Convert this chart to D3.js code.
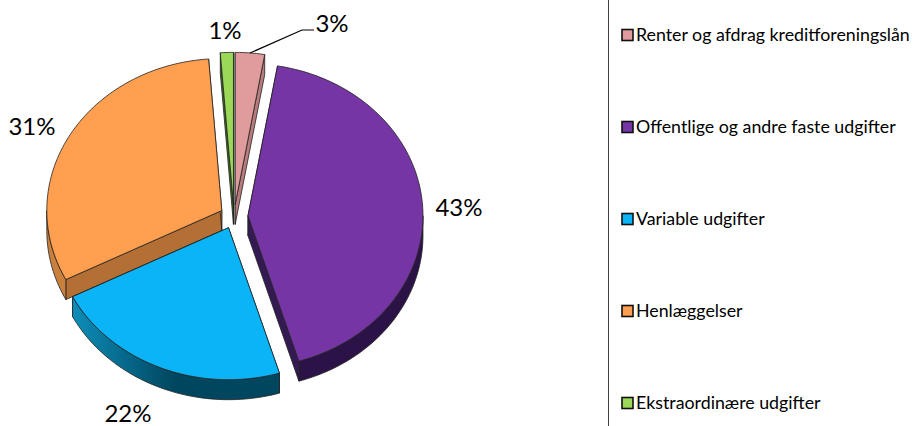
<!DOCTYPE html>
<html>
<head>
<meta charset="utf-8">
<script src="https://cdn.jsdelivr.net/npm/d3@7"></script>
<style>
  html, body { margin: 0; padding: 0; background: #fff; }
  svg { display: block; }
  text { font-family: Lato, "Open Sans", sans-serif; fill: #000; }
</style>
</head>
<body>
<svg id="chart" width="917" height="426"></svg>
<script>
const categories = [
  "Renter og afdrag kreditforeningslån",
  "Offentlige og andre faste udgifter",
  "Variable udgifter",
  "Henlæggelser",
  "Ekstraordinære udgifter"
];
// the labels round these
const shares = [2.7, 42.6, 22.2, 31.3, 1.2];
const faceColors = ["#e09c9c", "#7535a5", "#0ab4f7", "#ff9f4f", "#9bd857"];
const wallDark = ["#a56e6e", "#2c1347", "#00465f", "#b46f35", "#3d6a1d"];
const wallLight = ["#b87c7c", "#341a52", "#0d8fbc", "#c9803c", "#5d8f30"];

const svg = d3.select("#chart");
const height = +svg.attr("height");

const cx = 234, cy = 216.5, rx = 175, ry = 152, depth = 20, explode = 14;
const rad = deg => deg * Math.PI / 180;

// clockwise from the top, same way d3.arc measures it
const pie = d3.pie().sort(null);
const slices = pie(shares).map((d, i) => {
  let mid = (d.startAngle + d.endAngle) / 2;
  return {
    ...d,
    i,
    mid,
    ox: cx + Math.sin(mid) * explode,
    oy: cy - Math.cos(mid) * explode * ry / rx
  };
});

function rim(s, a, drop) {
  return [s.ox + Math.sin(a) * rx, s.oy - Math.cos(a) * ry + drop];
}

const line = d3.line();

function rimPoints(s, a0, a1, drop) {
  let n = Math.max(2, Math.ceil(Math.abs(a1 - a0) * 40));
  return d3.range(n + 1).map(k => rim(s, a0 + (a1 - a0) * k / n, drop));
}

function facePath(s) {
  return line([[s.ox, s.oy], ...rimPoints(s, s.startAngle, s.endAngle, 0)]) + "Z";
}

// straight cut wall from the apex out to the rim at angle a
function cutPath(s, a) {
  let [x, y] = rim(s, a, 0);
  return line([[s.ox, s.oy], [x, y], [x, y + depth], [s.ox, s.oy + depth]]) + "Z";
}

// outer wall, only the part of the rim that faces the viewer
function outerPath(s) {
  let a0 = Math.max(s.startAngle, rad(90));
  let a1 = Math.min(s.endAngle, rad(270));
  if (a1 <= a0) return null;
  return line([...rimPoints(s, a0, a1, 0), ...rimPoints(s, a1, a0, depth)]) + "Z";
}

const defs = svg.append("defs");
slices.forEach(s => {
  let grad = defs.append("linearGradient")
    .attr("id", `wall-${s.i}`)
    .attr("gradientUnits", "userSpaceOnUse")
    .attr("x1", 70).attr("x2", 175)
    .attr("y1", 0).attr("y2", 0);
  grad.append("stop").attr("offset", 0).attr("stop-color", wallLight[s.i]);
  grad.append("stop").attr("offset", 1).attr("stop-color", wallDark[s.i]);
});

// thin divider on the right
svg.append("line")
  .attr("x1", 608.5).attr("x2", 608.5)
  .attr("y1", 0).attr("y2", height)
  .attr("stroke", "#404040")
  .attr("stroke-width", 1);

const pieG = svg.append("g")
  .attr("stroke", "#222")
  .attr("stroke-width", 0.8)
  .attr("stroke-linejoin", "round");

// painter's order: the far slices first, big purple and blue last
const order = [4, 0, 3, 1, 2];
order.forEach(i => {
  let s = slices[i];
  let g = pieG.append("g").attr("class", "slice");
  g.append("path").attr("d", cutPath(s, s.startAngle)).attr("fill", wallDark[i]);
  g.append("path").attr("d", cutPath(s, s.endAngle)).attr("fill", wallLight[i]);
  let outer = outerPath(s);
  if (outer) g.append("path").attr("d", outer).attr("fill", `url(#wall-${i})`);
  g.append("path").attr("d", facePath(s)).attr("fill", faceColors[i]);
});

// percent labels
const labelPos = [[332, 24], [459, 208], [128, 414], [32, 127], [225, 31]];
svg.append("g").selectAll("text")
  .data(shares)
  .join("text")
  .attr("x", (d, i) => labelPos[i][0])
  .attr("y", (d, i) => labelPos[i][1])
  .attr("dy", "0.35em")
  .attr("text-anchor", "middle")
  .attr("font-size", 24)
  .text(d => `${Math.round(d)}%`);

// leader for the 3% label
svg.append("path")
  .attr("d", line([[250, 53], [302, 30], [314, 30]]))
  .attr("fill", "none")
  .attr("stroke", "#000")
  .attr("stroke-width", 1.2);

// legend
const legendY = d3.scalePoint().domain(categories).range([35, 403]);
const legend = svg.append("g").selectAll("g")
  .data(categories)
  .join("g")
  .attr("transform", d => `translate(622,${legendY(d)})`);

legend.append("rect")
  .attr("x", 0).attr("y", -5.5)
  .attr("width", 11).attr("height", 11)
  .attr("fill", (d, i) => faceColors[i])
  .attr("stroke", "#111")
  .attr("stroke-width", 1.6);

legend.append("text")
  .attr("x", 14)
  .attr("dy", "0.35em")
  .attr("font-size", 17.8)
  .text(d => d);
</script>
</body>
</html>
